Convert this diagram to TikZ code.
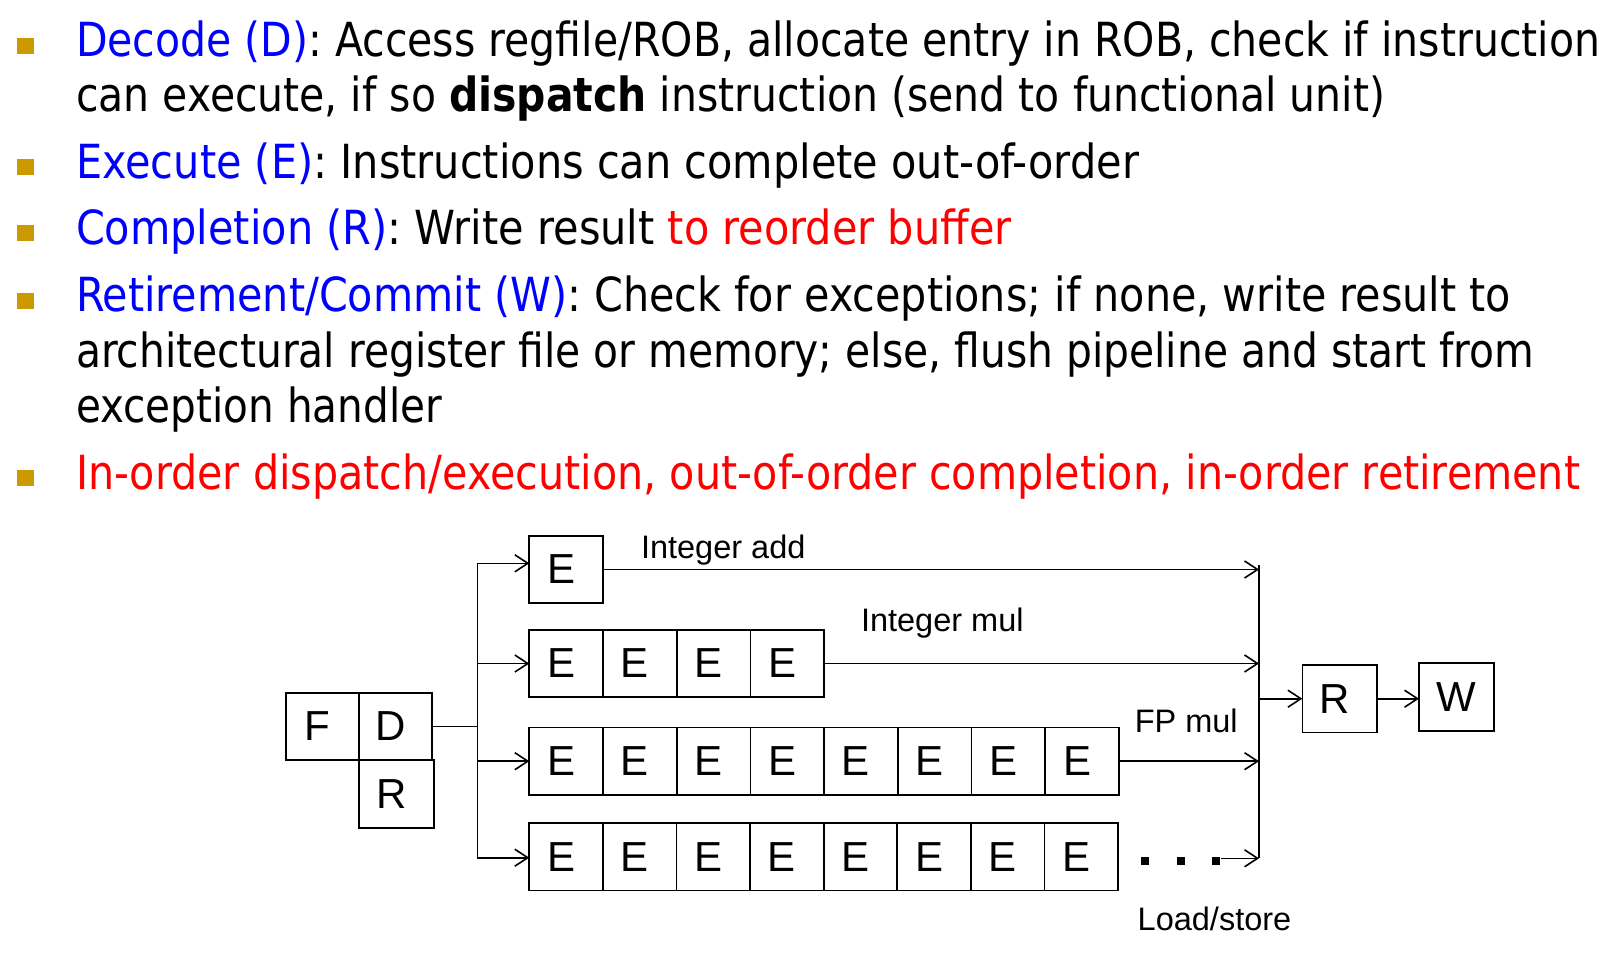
\documentclass[tikz,border=0pt]{standalone}
\usepackage{fontspec}
\usepackage{graphicx}
\setmainfont{Liberation Sans}
\newfontfamily\bodyfont{DejaVu Sans}
\usetikzlibrary{arrows.meta}

\definecolor{bulletgold}{RGB}{204,153,0}
\definecolor{termblue}{RGB}{0,0,255}
\definecolor{accentred}{RGB}{255,0,0}

\tikzset{
  every node/.style={inner sep=0pt, outer sep=0pt},
  bodyline/.style={anchor=base west, font=\bodyfont\fontsize{47bp}{55bp}\selectfont},
  bulletsq/.style={fill=bulletgold, draw=none, minimum width=17.5bp, minimum height=16bp},
  cell/.style={draw, line width=1.7bp, minimum width=73.7bp, minimum height=67.5bp,
    font=\fontsize{42bp}{42bp}\selectfont},
  % stage letters sit a little left of the box centre
  leftset/.style={execute at begin node={\hspace*{-10bp}}},
  unitlabel/.style={anchor=base west, font=\fontsize{32.5bp}{32.5bp}\selectfont},
  wire/.style={line width=1.6bp},
  flow/.style={line width=1.6bp, -{Straight Barb[length=13bp,width=17bp,line width=1.6bp]}},
  dotsq/.style={fill=black, minimum width=8.3bp, minimum height=8bp},
}

\begin{document}
\begin{tikzpicture}[x=1bp, y=-1bp]
  \fill[white] (0,0) rectangle (1605,969);
  \useasboundingbox (0,0) rectangle (1605,969);

  % ---------- bullet list ----------
  \foreach \yy in {45.5, 167, 233, 300.5, 478}
    \node[bulletsq] at (25.5,\yy) {};

  \node[bodyline] (l1) at (76,56.5)
    {\resizebox{1524bp}{\height}{\textcolor{termblue}{Decode (D)}: Access regfile/ROB, allocate entry in ROB, check if instruction}};
  \node[bodyline] (l2) at (76,111.5)
    {\resizebox{1309bp}{\height}{can execute, if so \textbf{dispatch} instruction (send to functional unit)}};
  \node[bodyline] (l3) at (76,178)
    {\resizebox{1063bp}{\height}{\textcolor{termblue}{Execute (E)}: Instructions can complete out-of-order}};
  \node[bodyline] (l4) at (76,244)
    {\resizebox{935.5bp}{\height}{\textcolor{termblue}{Completion (R)}: Write result \textcolor{accentred}{to reorder buffer}}};
  \node[bodyline] (l5) at (76,311.5)
    {\resizebox{1435bp}{\height}{\textcolor{termblue}{Retirement/Commit (W)}: Check for exceptions; if none, write result to}};
  \node[bodyline] (l6) at (76,367)
    {\resizebox{1458bp}{\height}{architectural register file or memory; else, flush pipeline and start from}};
  \node[bodyline] (l7) at (76,422.5)
    {\resizebox{366bp}{\height}{exception handler}};
  \node[bodyline] (l8) at (76,489)
    {\resizebox{1504bp}{\height}{\textcolor{accentred}{In-order dispatch/execution, out-of-order completion, in-order retirement}}};

  % ---------- front end ----------
  \node[cell, leftset, minimum width=73bp, minimum height=67.3bp] (F) at (322.2,726.3) {F};
  \node[cell, leftset, minimum width=73.6bp, minimum height=67.3bp] (D) at (395.5,726.3) {D};
  \node[cell, leftset, minimum width=75.3bp, minimum height=67.7bp] (Rd) at (396.3,793.8) {R};

  % ---------- execution pipelines ----------
  \node[cell, leftset] (r1c1) at ({529.3+73.7*0.5},569.5) {E};
  \foreach \i in {1,...,4}
    \node[cell, leftset] (r2c\i) at ({529.3+73.7*(\i-0.5)},663.5) {E};
  \foreach \i in {1,...,8}
    \node[cell, leftset] (r3c\i) at ({529.3+73.7*(\i-0.5)},761.2) {E};
  \foreach \i in {1,...,8}
    \node[cell, leftset] (r4c\i) at ({529.3+73.6*(\i-0.5)},856.7) {E};

  % ---------- completion / retirement ----------
  \node[cell, leftset, minimum width=74.7bp, minimum height=67.3bp] (Rc) at (1339.7,698.7) {R};
  \node[cell, minimum width=75bp, minimum height=68bp] (W) at (1456.5,696.7) {W};

  % ---------- unit labels ----------
  \node[unitlabel] (lblAdd) at (641,558.3) {Integer add};
  \node[unitlabel] (lblMul) at (861,631) {Integer mul};
  \node[unitlabel] (lblFP) at (1134.8,732.3) {FP mul};
  \node[unitlabel] (lblLS) at (1137.7,930.7) {Load/store};

  % load/store ellipsis
  \node[dotsq] (dot1) at (1145.2,861.3) {};
  \node[dotsq] (dot2) at (1181.3,861.3) {};
  \node[dotsq] (dot3) at (1216.3,861.3) {};

  % ---------- dispatch bus ----------
  \coordinate (split) at (477.3,727);
  \coordinate (busTop) at (477.3,563.3);
  \coordinate (busBot) at (477.3,857.7);
  \draw[wire] (D.east) -- (D.east -| split);
  \draw[wire] (busTop) -- (busBot);
  \draw[flow] (busTop) -- (busTop -| r1c1.west);
  \draw[flow] (r2c1.west -| split) -- (r2c1.west);
  \draw[flow] (r3c1.west -| split) -- (r3c1.west);
  \draw[flow] (busBot) -- (busBot -| r4c1.west);

  % ---------- completion bus ----------
  \coordinate (mergeTop) at (1259,565);
  \coordinate (mergeBot) at (1259,858.3);
  \coordinate (lsOut) at (1220.8,858.3);
  \draw[wire] (mergeTop) -- (mergeBot);
  \draw[flow] (r1c1.east) -- (r1c1.east -| mergeTop);
  \draw[flow] (r2c4.east) -- (r2c4.east -| mergeTop);
  \draw[flow] (r3c8.east) -- (r3c8.east -| mergeTop);
  \draw[flow] (lsOut) -- (mergeBot);
  \draw[flow] (Rc.west -| mergeTop) -- (Rc.west);
  \draw[flow] (Rc.east) -- (Rc.east -| W.west);
\end{tikzpicture}
\end{document}
